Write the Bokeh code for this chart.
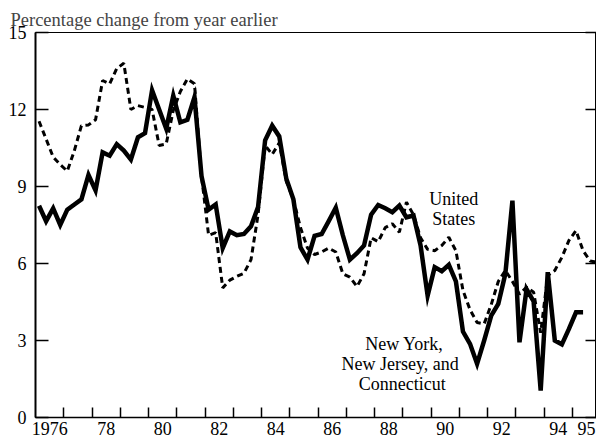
from bokeh.plotting import figure
from bokeh.models import FixedTicker, LinearAxis, Range1d, ColumnDataSource
from bokeh.embed import file_html
from bokeh.resources import INLINE
from bokeh.core.properties import value

# Quarterly data, starting 1976 Q1
start_year = 1976
us_values = [
    11.54, 10.85, 10.15, 9.85,   # 1976
    9.6, 10.4, 11.37, 11.4,      # 1977
    11.6, 13.13, 13.0, 13.6,     # 1978
    13.8, 12.0, 12.15, 12.08,    # 1979
    12.0, 10.6, 10.66, 11.96,    # 1980
    12.7, 13.19, 13.0, 9.4,      # 1981
    7.1, 7.2, 5.05, 5.35,        # 1982
    5.5, 5.62, 6.15, 7.9,        # 1983
    10.6, 10.25, 10.7, 9.2,      # 1984
    8.5, 7.4, 6.6, 6.35,         # 1985
    6.45, 6.6, 6.45, 5.6,        # 1986
    5.47, 5.1, 5.6, 7.0,         # 1987
    6.85, 7.4, 7.55, 7.22,       # 1988
    8.39, 7.9, 7.0, 6.55,        # 1989
    6.5, 6.7, 7.02, 6.5,         # 1990
    4.95, 4.2, 3.7, 3.65,        # 1991
    4.4, 5.3, 5.73, 5.3,         # 1992
    4.8, 5.08, 4.88, 3.3,        # 1993
    5.53, 5.73, 6.24, 6.9,       # 1994
    7.28, 6.5, 6.1, 6.05,        # 1995
]
region_values = [
    8.25, 7.65, 8.15, 7.5,       # 1976
    8.1, 8.3, 8.5, 9.45,         # 1977
    8.85, 10.33, 10.2, 10.65,    # 1978
    10.4, 10.05, 10.92, 11.08,   # 1979
    12.75, 12.0, 11.25, 12.54,   # 1980
    11.5, 11.6, 12.48, 9.4,      # 1981
    8.1, 8.3, 6.6, 7.25,         # 1982
    7.1, 7.15, 7.45, 8.2,        # 1983
    10.8, 11.37, 10.95, 9.3,     # 1984
    8.5, 6.63, 6.15, 7.08,       # 1985
    7.15, 7.65, 8.17, 7.1,       # 1986
    6.15, 6.4, 6.7, 7.9,         # 1987
    8.28, 8.15, 8.0, 8.26,       # 1988
    7.8, 7.87, 6.7, 4.75,        # 1989
    5.86, 5.7, 5.95, 5.3,        # 1990
    3.35, 2.87, 2.09, 3.0,       # 1991
    3.97, 4.43, 5.6, 8.45,       # 1992
    2.93, 5.0, 4.52, 1.05,       # 1993
    5.66, 3.0, 2.85, 3.45,       # 1994
    4.1, 4.1,                    # 1995
]

tick_years = list(range(1977, 1996))
label_years = [1976, 1978, 1980, 1982, 1984, 1986, 1988, 1990, 1992, 1994, 1995]
label_texts = ["1976", "78", "80", "82", "84", "86", "88", "90", "92", "94", "95"]
y_ticks = [0, 3, 6, 9, 12, 15]

title_text = "Percentage change from year earlier"
us_label_lines = ["United", "States"]
region_label_lines = ["New York,", "New Jersey,  and", "Connecticut"]

FONT = "Liberation Serif"


def qx(n):
    return [start_year + (k + 0.5) / 4 for k in range(n)]


p = figure(width=596, height=439, output_backend="svg", toolbar_location=None,
           x_range=Range1d(1976, 1995.85), y_range=Range1d(0, 15),
           min_border_left=35, min_border_right=0, min_border_top=32, min_border_bottom=22)
p.background_fill_color = "white"
p.border_fill_color = "white"
p.outline_line_color = "black"
p.outline_line_width = 1
p.xgrid.visible = False
p.ygrid.visible = False

p.title.text = title_text
p.title.text_font = FONT
p.title.text_font_size = "18.5px"
p.title.text_font_style = "normal"
p.title.align = "left"
p.title.offset = -25
p.title.standoff = 5

# x axis
label_pos = [y + 0.5 for y in label_years]
xa = p.xaxis[0]
xa.ticker = FixedTicker(ticks=label_pos, minor_ticks=tick_years)
xa.major_label_overrides = {pos: t for pos, t in zip(label_pos, label_texts)}
xa.major_tick_in = 0
xa.major_tick_out = 0
xa.minor_tick_in = 10
xa.minor_tick_out = 0
xa.minor_tick_line_color = "black"
xa.minor_tick_line_width = 1.5
xa.axis_line_width = 1.5
xa.axis_line_color = "black"
xa.major_label_text_font = FONT
xa.major_label_text_font_size = "18px"
xa.major_label_text_color = "black"
xa.major_label_standoff = 4

# y axis
ya = p.yaxis[0]
ya.ticker = FixedTicker(ticks=y_ticks, minor_ticks=[])
ya.major_tick_in = 13
ya.major_tick_out = 0
ya.major_tick_line_width = 1.5
ya.axis_line_width = 2
ya.axis_line_color = "black"
ya.major_label_text_font = FONT
ya.major_label_text_font_size = "18px"
ya.major_label_text_color = "black"
ya.major_label_standoff = 9

# right axis: ticks only (as minor ticks, so no labels are drawn)
ra = LinearAxis(ticker=FixedTicker(ticks=[], minor_ticks=y_ticks),
                major_tick_in=0, major_tick_out=0,
                minor_tick_in=11, minor_tick_out=0, minor_tick_line_width=1.5,
                minor_tick_line_color="black",
                major_label_standoff=0,
                axis_line_color="black", axis_line_width=1)
p.add_layout(ra, "right")

us_src = ColumnDataSource(dict(x=qx(len(us_values)), y=us_values))
rg_src = ColumnDataSource(dict(x=qx(len(region_values)), y=region_values))

p.line("x", "y", source=us_src, line_color="black", line_width=3, line_dash="6 4")
p.line("x", "y", source=rg_src, line_color="black", line_width=4.5, line_join="miter")

p.text(x=[1990.8, 1990.8], y=[8.5, 7.72], text=us_label_lines,
       text_font=value(FONT), text_font_size="18px", text_align="center",
       text_baseline="middle", text_color="black")
p.text(x=[1989.05, 1988.98, 1988.98], y=[2.88, 2.1, 1.32], text=region_label_lines,
       text_font=value(FONT), text_font_size="18px", text_align="center",
       text_baseline="middle", text_color="black")

open("out.html", "w").write(file_html(p, INLINE))
